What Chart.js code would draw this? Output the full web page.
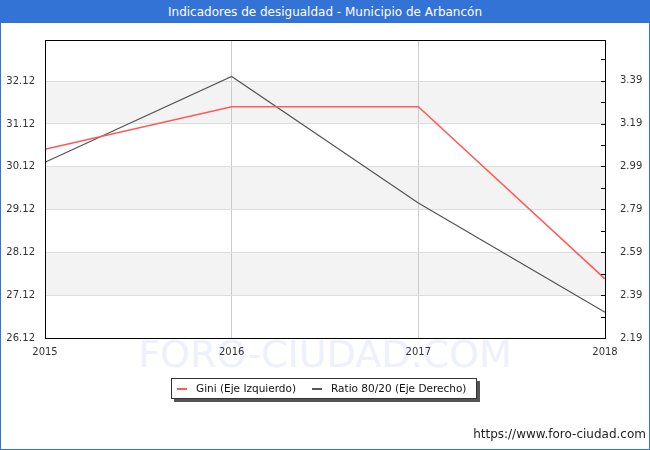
<!DOCTYPE html>
<html>
<head>
<meta charset="utf-8">
<script src="https://cdn.jsdelivr.net/npm/chart.js@4.4.0/dist/chart.umd.min.js"></script>
<style>
  body { margin: 0; background: #fff; font-family: "DejaVu Sans", sans-serif; }
  #wrap { position: relative; width: 648px; height: 448px; border: 1px solid #3473d6; overflow: hidden; }
  #title { position: absolute; left: 0; top: 0; width: 648px; height: 22px; background: #3473d6; color: #fff; font-size: 12px; line-height: 23px; text-align: center; }
  #mark { position: absolute; left: 0; width: 648px; top: 331px; text-align: center; font-size: 38px; color: #eef0fa; }
  #myCanvas { position: absolute; left: -1px; top: -1px; }
  #legend { position: absolute; left: 170px; top: 377px; width: 304px; height: 19px; border: 1px solid #333; background: #fff; box-shadow: 3px 3px 0 #555; font-size: 10.5px; line-height: 19px; color: #111; white-space: nowrap; }
  #legend span.dash { display: inline-block; width: 10px; height: 2px; vertical-align: middle; margin: 0 9px 0 5px; }
  #url { position: absolute; right: 3px; top: 426px; font-size: 12px; color: #222; }
</style>
</head>
<body>
<div id="wrap">
  <div id="mark">FORO-CIUDAD.COM</div>
  <canvas id="myCanvas" width="650" height="450"></canvas>
  <div id="title">Indicadores de desigualdad - Municipio de Arbancón</div>
  <div id="legend"><span class="dash" style="background:#ff5a5a"></span>Gini (Eje Izquierdo)<span class="dash" style="background:#555;margin-left:16px"></span>Ratio 80/20 (Eje Derecho)</div>
  <div id="url">https://www.foro-ciudad.com</div>
</div>
<script>
let years = ["2015", "2016", "2017", "2018"]
let gini = [30.53, 31.52, 31.52, 27.5]
let ratio = [3.01, 3.41, 2.82, 2.31]
let leftTicks = [26.12, 27.12, 28.12, 29.12, 30.12, 31.12, 32.12]
let rightTicks = [2.19, 2.29, 2.39, 2.49, 2.59, 2.69, 2.79, 2.89, 2.99, 3.09, 3.19, 3.29, 3.39, 3.49]
let rightLabels = ["2.19", "2.39", "2.59", "2.79", "2.99", "3.19", "3.39"]
let greyBands = [[27.12, 28.12], [29.12, 30.12], [31.12, 32.12]]

let ctx = document.querySelector("#myCanvas").getContext("2d")

// grey bands behind the grid, border and inner ticks on top
let decor = {
    id: "decor",
    beforeDraw: function (chart) {
        let a = chart.chartArea
        let y = chart.scales.y
        let c = chart.ctx
        c.save()
        c.fillStyle = "#f3f3f3"
        greyBands.forEach(function (b) {
            let top = y.getPixelForValue(b[1])
            let bot = y.getPixelForValue(b[0])
            c.fillRect(a.left, top, a.right - a.left, bot - top)
        })
        c.restore()
    },
    afterDraw: function (chart) {
        let a = chart.chartArea
        let y1 = chart.scales.y1
        let c = chart.ctx
        c.save()
        c.strokeStyle = "#000"
        c.lineWidth = 1
        c.strokeRect(Math.round(a.left) + 0.5, Math.round(a.top) + 0.5, Math.round(a.right - a.left), Math.round(a.bottom - a.top))
        rightTicks.forEach(function (v) {
            let py = Math.round(y1.getPixelForValue(v)) + 0.5
            c.beginPath()
            c.moveTo(a.right - 4, py)
            c.lineTo(a.right, py)
            c.stroke()
        })
        c.restore()
    }
}

let chart = new Chart(ctx, {
    type: "line",
    data: {
        labels: years,
        datasets: [{
            label: "Gini (Eje Izquierdo)",
            data: gini,
            borderColor: "#ff5a5a",
            borderWidth: 1.5,
            pointRadius: 0,
            tension: 0,
            yAxisID: "y"
        }, {
            label: "Ratio 80/20 (Eje Derecho)",
            data: ratio,
            borderColor: "#555555",
            borderWidth: 1.2,
            pointRadius: 0,
            tension: 0,
            yAxisID: "y1"
        }]
    },
    options: {
        responsive: false,
        animation: false,
        layout: { padding: { top: 40, bottom: 92, left: 0, right: 0 } },
        plugins: { legend: { display: false }, title: { display: false }, tooltip: { enabled: false } },
        scales: {
            x: {
                offset: false,
                grid: { color: "#cccccc", drawTicks: false },
                border: { display: false },
                ticks: { color: "#333", font: { family: "DejaVu Sans", size: 10 }, padding: 8, maxRotation: 0 },
                afterFit: function (s) { s.height = 20 }
            },
            y: {
                position: "left",
                min: 26.12,
                max: 33.08,
                grid: { color: "#dddddd", drawTicks: false },
                border: { display: false },
                ticks: { color: "#333", font: { family: "DejaVu Sans", size: 10 }, padding: 10,
                    callback: function (v) { return v.toFixed(2) } },
                afterBuildTicks: function (s) { s.ticks = leftTicks.map(function (v) { return { value: v } }) },
                afterFit: function (s) { s.width = 45 }
            },
            y1: {
                position: "right",
                min: 2.19,
                max: 3.58,
                grid: { display: false },
                border: { display: false },
                ticks: { color: "#333", font: { family: "DejaVu Sans", size: 10 }, padding: 7,
                    callback: function (v) {
                        let t = v.toFixed(2)
                        return rightLabels.includes(t) ? t : ""
                    } },
                afterBuildTicks: function (s) { s.ticks = rightTicks.map(function (v) { return { value: v } }) },
                afterFit: function (s) { s.width = 45 }
            }
        }
    },
    plugins: [decor]
})
</script>
</body>
</html>
